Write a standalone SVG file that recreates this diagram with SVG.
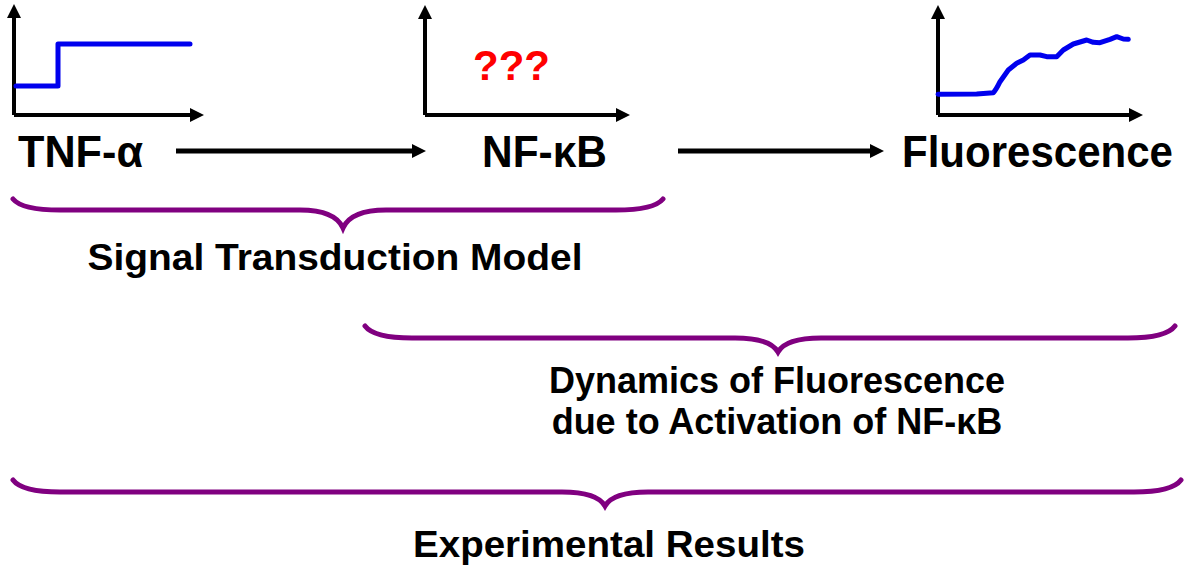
<svg xmlns="http://www.w3.org/2000/svg" width="1200" height="579" viewBox="0 0 1200 579">
<style>
text{font-family:"Liberation Sans",Arial,sans-serif;font-weight:bold;fill:#000}
.lbl{font-size:44px}
.sub{font-size:36px;text-anchor:middle}
.axis{stroke:#000;stroke-width:4;fill:none;marker-end:url(#ah)}
.sig{stroke:#0000ee;stroke-width:5;fill:none;stroke-linejoin:round;stroke-linecap:round}
.conn{stroke:#000;stroke-width:5;fill:none;marker-end:url(#ah)}
.brace{stroke:#800080;stroke-width:5;fill:none;stroke-linecap:round;stroke-linejoin:miter}
</style>
<defs>
<marker id="ah" markerUnits="userSpaceOnUse" markerWidth="14" markerHeight="14" viewBox="0 0 14 14" refX="7" refY="7" orient="auto">
<path d="M0,0 L14,7 L0,14 z" fill="#000"/>
</marker>
</defs>
<rect width="1200" height="579" fill="#fff"/>
<g id="tnf">
<path class="axis" d="M14,115 L14,11"/>
<path class="axis" d="M14,115 L197,115"/>
<path class="sig" d="M16,86 L58,86 L58,44 L190,44"/>
<text class="lbl" x="18" y="167" textLength="125" lengthAdjust="spacingAndGlyphs">TNF-α</text>
</g>
<g id="nfkb">
<path class="axis" d="M425,115 L425,12"/>
<path class="axis" d="M425,115 L623,115"/>
<text x="473" y="80" style="font-size:42px;fill:#ff0000" textLength="77" lengthAdjust="spacingAndGlyphs">???</text>
<text class="lbl" x="482" y="167" textLength="125" lengthAdjust="spacingAndGlyphs">NF-κB</text>
</g>
<g id="fluorescence">
<path class="axis" d="M938,115 L938,12"/>
<path class="axis" d="M938,115 L1136,115"/>
<path class="sig" d="M938,94.3 L976.7,94 L993.3,92.7 Q996,90 1000,81.7 L1008.3,70 L1016.7,63.3 L1023.3,60 L1030,55 L1040,55 L1046.7,56.7 L1056.7,56.7 L1063.3,50 L1073.3,44 L1086.7,40 L1093.3,42.3 L1100,42.7 L1110,39.3 L1116.7,36.7 L1123.3,39 L1128.3,39.3"/>
<text class="lbl" x="902" y="167" textLength="271" lengthAdjust="spacingAndGlyphs">Fluorescence</text>
</g>
<g id="connectors">
<path class="conn" d="M176,151 L419,151"/>
<path class="conn" d="M678,151 L877,151"/>
</g>
<g id="signal-transduction-model">
<path class="brace" d="M13,199 Q22,210 60,210 L300,210 Q335,210 343,228 Q351,210 386,210 L616,210 Q654,210 663,199"/>
<text class="sub" x="335" y="270" textLength="495" lengthAdjust="spacingAndGlyphs">Signal Transduction Model</text>
</g>
<g id="dynamics">
<path class="brace" d="M365,326 Q374,338 412,338 L735,338 Q770,338 778,352 Q786,338 821,338 L1128,338 Q1166,338 1175,326"/>
<text class="sub" x="777" y="393">Dynamics of Fluorescence</text>
<text class="sub" x="777" y="434">due to Activation of NF-κB</text>
</g>
<g id="experimental-results">
<path class="brace" d="M13,480 Q22,492 60,492 L562,492 Q597,492 605,506 Q613,492 648,492 L1134,492 Q1172,492 1181,480"/>
<text class="sub" x="609" y="557" textLength="392" lengthAdjust="spacingAndGlyphs">Experimental Results</text>
</g>
</svg>
